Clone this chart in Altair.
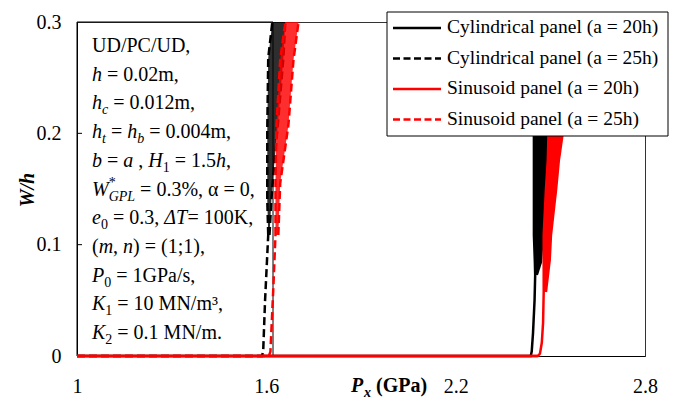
import altair as alt
import pandas as pd

FONT = "Liberation Serif"
W_PLOT, H_PLOT = 568, 334

# ---------------- data ----------------
series_names = [
    "Cylindrical panel (a = 20h)",
    "Cylindrical panel (a = 25h)",
    "Sinusoid panel (a = 20h)",
    "Sinusoid panel (a = 25h)",
]
series_colors = ["#000000", "#000000", "#ff0000", "#ff0000"]
series_dashed = [False, True, False, True]

x_ticks = [1, 1.6, 2.2, 2.8]
y_ticks = [0, 0.1, 0.2, 0.3]
y_inner_ticks = [0.1, 0.2]

# Cylindrical panel (a = 20h)
cyl20_stem_x = [1.0, 2.438, 2.441, 2.445, 2.450, 2.452]
cyl20_stem_y = [0.0, 0.0, 0.004, 0.020, 0.050, 0.0728]
cyl20_band_y = [0.0728, 0.0844, 0.1087, 0.1356, 0.1716, 0.2075, 0.300]
cyl20_band_l = [2.452, 2.451, 2.448, 2.448, 2.448, 2.448, 2.451]
cyl20_band_r = [2.457, 2.470, 2.476, 2.479, 2.489, 2.502, 2.505]

# Cylindrical panel (a = 25h)
cyl25_stem_x = [1.0, 1.586, 1.590, 1.596, 1.606]
cyl25_stem_y = [0.0, 0.0, 0.004, 0.050, 0.1087]
cyl25_band_y = [0.1087, 0.1401, 0.1626, 0.2030, 0.2677, 0.300]
cyl25_band_l = [1.606, 1.603, 1.603, 1.603, 1.606, 1.619]
cyl25_band_r = [1.610, 1.616, 1.622, 1.635, 1.654, 1.660]

# Sinusoid panel (a = 20h)
sin20_stem_x = [1.0, 2.460, 2.467, 2.473, 2.477, 2.479]
sin20_stem_y = [0.0, 0.0, 0.002, 0.012, 0.030, 0.0575]
sin20_band_y = [0.0575, 0.0862, 0.1087, 0.1491, 0.1760, 0.2075, 0.300]
sin20_band_l = [2.479, 2.479, 2.479, 2.486, 2.492, 2.495, 2.502]
sin20_band_r = [2.486, 2.498, 2.502, 2.518, 2.527, 2.543, 2.549]

# Sinusoid panel (a = 25h)
sin25_stem_x = [1.0, 1.608, 1.613, 1.622, 1.629]
sin25_stem_y = [0.0, 0.0, 0.004, 0.060, 0.1087]
sin25_band_y = [0.1087, 0.1554, 0.2075, 0.2659, 0.300]
sin25_band_l = [1.629, 1.629, 1.632, 1.644, 1.660]
sin25_band_r = [1.638, 1.644, 1.670, 1.686, 1.702]

series_data = [
    (cyl20_stem_x, cyl20_stem_y, cyl20_band_y, cyl20_band_l, cyl20_band_r),
    (cyl25_stem_x, cyl25_stem_y, cyl25_band_y, cyl25_band_l, cyl25_band_r),
    (sin20_stem_x, sin20_stem_y, sin20_band_y, sin20_band_l, sin20_band_r),
    (sin25_stem_x, sin25_stem_y, sin25_band_y, sin25_band_l, sin25_band_r),
]

# Annotation text (fragments: text, style)
box_lines = [
    [("UD/PC/UD,", "r")],
    [("h", "i"), (" = 0.02m,", "r")],
    [("h", "i"), ("c", "si"), (" = 0.012m,", "r")],
    [("h", "i"), ("t", "si"), (" = ", "r"), ("h", "i"), ("b", "si"), (" = 0.004m,", "r")],
    [("b", "i"), (" = ", "r"), ("a", "i"), (" , ", "r"), ("H", "i"), ("1", "sr"),
     (" = 1.5", "r"), ("h", "i"), (",", "r")],
    [("W", "i"), ("*", "sup"), ("GPL", "si"), (" = 0.3%, α = 0,", "r")],
    [("e", "i"), ("0", "sr"), (" = 0.3, ", "r"), ("ΔT", "i"), ("= 100K,", "r")],
    [("(", "r"), ("m", "i"), (", ", "r"), ("n", "i"), (") = (1;1),", "r")],
    [("P", "i"), ("0", "sr"), (" = 1GPa/s,", "r")],
    [("K", "i"), ("1", "sr"), (" = 10 MN/m³,", "r")],
    [("K", "i"), ("2", "sr"), (" = 0.1 MN/m.", "r")],
]

# ---------------- text metrics (Times-compatible) ----------------
REG = {' ': .25, '%': .833, '(': .333, ')': .333, '*': .5, ',': .25, '.': .25, '/': .278,
       ';': .278, '=': .564, 'C': .667, 'D': .722, 'G': .722, 'K': .722, 'M': .889,
       'N': .722, 'P': .556, 'U': .722, 'a': .444, 'm': .778, 's': .389, 'α': .53,
       '³': .3, 'h': .5}
ITA = {'a': .5, 'b': .5, 'c': .444, 'e': .444, 'h': .5, 'm': .722, 'n': .5, 't': .278,
       'G': .722, 'H': .722, 'K': .667, 'L': .556, 'P': .611, 'T': .556, 'W': .833,
       'Δ': .612}

STYLES = {
    "r": dict(size=20, italic=False, dy=0, table=REG),
    "i": dict(size=20, italic=True, dy=0, table=ITA),
    "si": dict(size=14, italic=True, dy=5, table=ITA),
    "sr": dict(size=14, italic=False, dy=5, table=REG),
    "sup": dict(size=14, italic=False, dy=-9, table=REG),
}


def text_w(s, table, size):
    return sum(table.get(ch, REG.get(ch, .5)) for ch in s) * size


frag_rows = {k: [] for k in STYLES}
BOX_X0, BOX_Y0, BOX_DY = 15, 30, 28.7
for li, line in enumerate(box_lines):
    x = BOX_X0
    yb = BOX_Y0 + li * BOX_DY
    for txt, st in line:
        s = STYLES[st]
        lead = len(txt) - len(txt.lstrip(" "))
        frag_rows[st].append({"px": x + lead * .25 * 20, "py": yb + s["dy"], "t": txt.strip(" ")})
        if st != "sup":
            x += text_w(txt, s["table"], s["size"])

# ---------------- chart ----------------
xs = alt.Scale(domain=[1, 2.8], nice=False, zero=False)
ys = alt.Scale(domain=[0, 0.3], nice=False, zero=False)
xaxis = alt.Axis(values=x_ticks, title=None, ticks=False, labelPadding=20, grid=False,
                 labelFlush=False, domainColor="black", labelFont=FONT, labelFontSize=20,
                 labelColor="black", format=".1~f")
yaxis = alt.Axis(values=y_ticks, title=None, ticks=False, labelPadding=16, grid=False,
                 labelFlush=False, domainColor="black", labelFont=FONT, labelFontSize=20,
                 labelColor="black", format=".1~f")

one = pd.DataFrame({"a": [0]})
layers = []

# parameter box
layers.append(alt.Chart(one).mark_rect(fillOpacity=0, stroke="black", strokeWidth=1).encode(
    x=alt.value(0), x2=alt.value(196), y=alt.value(0), y2=alt.value(H_PLOT)))

# inner y ticks
layers.append(alt.Chart(pd.DataFrame({"v": y_inner_ticks})).mark_rule(color="black").encode(
    y=alt.Y("v:Q", scale=ys, axis=yaxis), x=alt.value(0), x2=alt.value(5)))

for name, col, dashed, (sx, sy, by, bl, br) in zip(series_names, series_colors, series_dashed, series_data):
    dash = [8, 4] if dashed else [1, 0]
    stem = pd.DataFrame({"x": sx, "y": sy, "o": list(range(len(sx)))})
    band = pd.DataFrame({"y": by, "l": bl, "r": br})
    edges = pd.concat([
        pd.DataFrame({"x": bl, "y": by, "e": "L"}),
        pd.DataFrame({"x": br, "y": by, "e": "R"}),
    ])
    layers.append(alt.Chart(stem).mark_line(color=col, strokeWidth=2.5, strokeDash=dash).encode(
        x=alt.X("x:Q", scale=xs, axis=xaxis), y=alt.Y("y:Q", scale=ys, axis=yaxis), order="o:Q"))
    layers.append(alt.Chart(band).mark_area(orient="horizontal", color=col,
                                            opacity=0.82 if dashed else 1.0).encode(
        y=alt.Y("y:Q", scale=ys, axis=yaxis), x=alt.X("l:Q", scale=xs, axis=xaxis), x2="r:Q"))
    layers.append(alt.Chart(edges).mark_line(color=col, strokeWidth=2.5, strokeDash=dash,
                                             strokeCap="butt").encode(
        x=alt.X("x:Q", scale=xs, axis=xaxis), y=alt.Y("y:Q", scale=ys, axis=yaxis),
        detail="e:N", order="y:Q"))

# red solid baseline drawn on top along the axis
layers.append(alt.Chart(pd.DataFrame({"x": sin20_stem_x[:2], "y": sin20_stem_y[:2]})).mark_line(
    color=series_colors[2], strokeWidth=2.5).encode(
    x=alt.X("x:Q", scale=xs, axis=xaxis), y=alt.Y("y:Q", scale=ys, axis=yaxis)))

# annotation text fragments
for st, rows in frag_rows.items():
    if not rows:
        continue
    s = STYLES[st]
    layers.append(alt.Chart(pd.DataFrame(rows)).mark_text(
        font=FONT, fontSize=s["size"], fontStyle="italic" if s["italic"] else "normal",
        align="left", baseline="alphabetic", color="black").encode(
        x=alt.X("px:Q", scale=None, axis=None), y=alt.Y("py:Q", scale=None, axis=None), text="t:N"))

# axis titles
layers.append(alt.Chart(one).mark_text(text="P", font=FONT, fontSize=20, fontWeight="bold",
                                       fontStyle="italic", align="left", baseline="alphabetic",
                                       color="black").encode(x=alt.value(274), y=alt.value(370)))
layers.append(alt.Chart(one).mark_text(text="x", font=FONT, fontSize=14, fontWeight="bold",
                                       fontStyle="italic", align="left", baseline="alphabetic",
                                       color="black").encode(x=alt.value(287), y=alt.value(375)))
layers.append(alt.Chart(one).mark_text(text="(GPa)", font=FONT, fontSize=20, fontWeight="bold",
                                       align="left", baseline="alphabetic",
                                       color="black").encode(x=alt.value(299), y=alt.value(370)))
layers.append(alt.Chart(one).mark_text(text="W/h", font=FONT, fontSize=20, fontWeight="bold",
                                       fontStyle="italic", align="center", baseline="middle",
                                       angle=270, color="black").encode(x=alt.value(-49), y=alt.value(168)))

# legend
LEG_X0, LEG_X1, LEG_Y0, LEG_Y1 = 310, 591, -10, 114
leg_rows = [6, 36.5, 67, 97.5]
layers.append(alt.Chart(one).mark_rect(fill="white", stroke="black", strokeWidth=1).encode(
    x=alt.value(LEG_X0), x2=alt.value(LEG_X1), y=alt.value(LEG_Y0), y2=alt.value(LEG_Y1)))
for name, col, dashed, ry in zip(series_names, series_colors, series_dashed, leg_rows):
    dash = [7, 3.5] if dashed else [1, 0]
    layers.append(alt.Chart(one).mark_rule(color=col, strokeWidth=2.5, strokeDash=dash).encode(
        x=alt.value(316), x2=alt.value(364), y=alt.value(ry)))
    layers.append(alt.Chart(one).mark_text(text=name, font=FONT, fontSize=19.5, align="left",
                                           baseline="middle", color="black").encode(
        x=alt.value(370), y=alt.value(ry - 1)))

chart = alt.layer(*layers).properties(
    width=W_PLOT, height=H_PLOT,
    padding={"left": 77, "top": 22, "right": 36, "bottom": 52},
    autosize=alt.AutoSizeParams(type="none"),
).configure_view(stroke="#333333", strokeWidth=1)

chart.save("out.html", embed_options={"renderer": "svg", "actions": False})
